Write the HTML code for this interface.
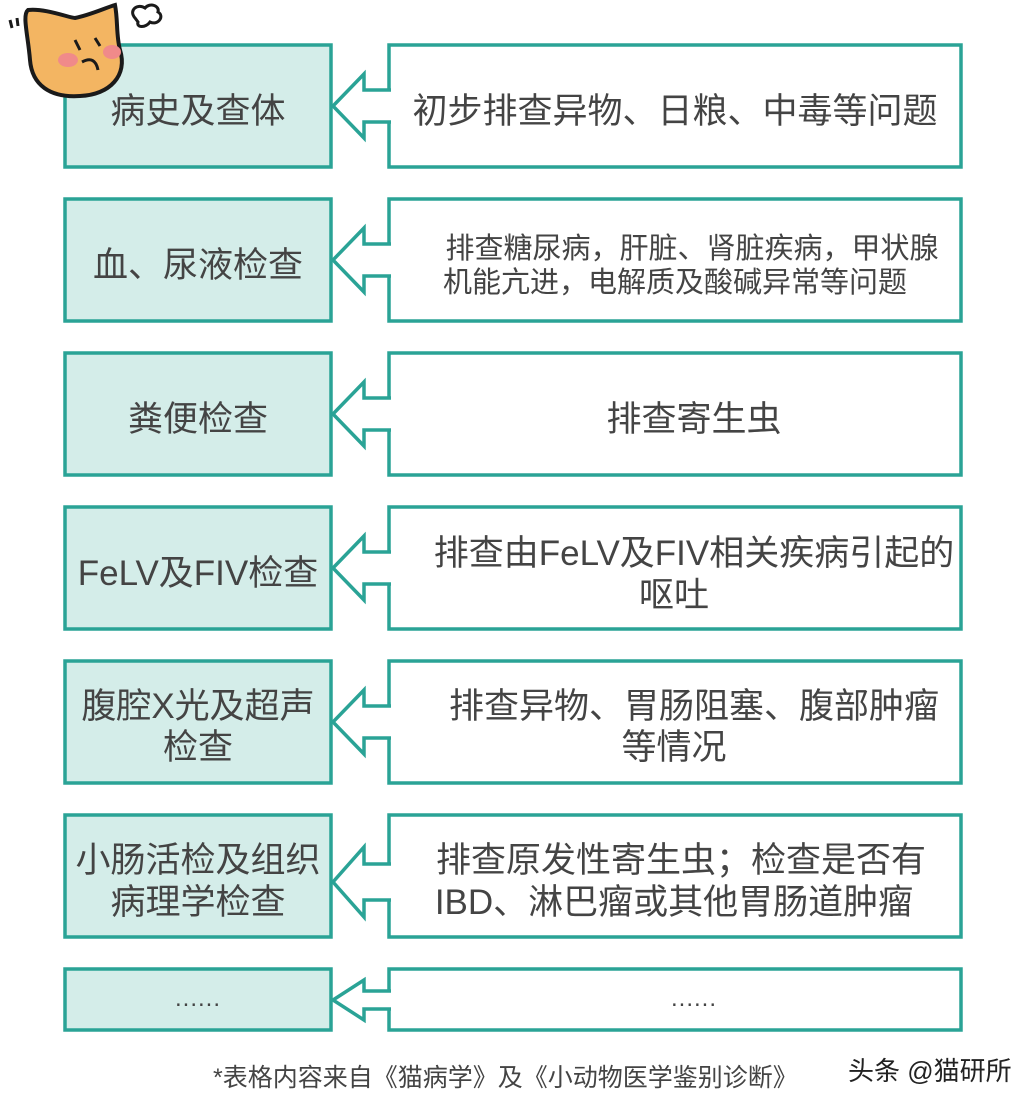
<!DOCTYPE html>
<html><head><meta charset="utf-8"><style>
html,body{margin:0;padding:0;background:#fff;}
svg{display:block}
text{font-family:"Liberation Sans","Noto Sans CJK SC",sans-serif;fill:#444;}
</style></head><body>
<svg width="1034" height="1103" viewBox="0 0 1034 1103" xmlns="http://www.w3.org/2000/svg">
<g stroke="#2aa396" stroke-width="3.5" stroke-linejoin="miter">
<rect x="65" y="45" width="266" height="122" fill="#d4ede9"/>
<rect x="389" y="45" width="572" height="122" fill="#fff"/>
<rect x="65" y="199" width="266" height="122" fill="#d4ede9"/>
<rect x="389" y="199" width="572" height="122" fill="#fff"/>
<rect x="65" y="353" width="266" height="122" fill="#d4ede9"/>
<rect x="389" y="353" width="572" height="122" fill="#fff"/>
<rect x="65" y="507" width="266" height="122" fill="#d4ede9"/>
<rect x="389" y="507" width="572" height="122" fill="#fff"/>
<rect x="65" y="661" width="266" height="122" fill="#d4ede9"/>
<rect x="389" y="661" width="572" height="122" fill="#fff"/>
<rect x="65" y="815" width="266" height="122" fill="#d4ede9"/>
<rect x="389" y="815" width="572" height="122" fill="#fff"/>
<rect x="65" y="969" width="266" height="61" fill="#d4ede9"/>
<rect x="389" y="969" width="572" height="61" fill="#fff"/>
</g>
<g fill="#fff" stroke="#2aa396" stroke-width="3.5">
<path d="M391 90 H364 V74 L333 106 L364 138 V122 H391" />
<path d="M391 244 H364 V228 L333 260 L364 292 V276 H391" />
<path d="M391 398 H364 V382 L333 414 L364 446 V430 H391" />
<path d="M391 552 H364 V536 L333 568 L364 600 V584 H391" />
<path d="M391 706 H364 V690 L333 722 L364 754 V738 H391" />
<path d="M391 864 H364 V847 L333 882 L364 917 V900 H391" />
<path d="M391 991 H364 V980 L333 1000 L364 1020 V1009 H391" />
</g>
<g font-size="35" text-anchor="middle">
<text x="198" y="123">病史及查体</text>
<text x="198" y="277">血、尿液检查</text>
<text x="198" y="431">粪便检查</text>
<text x="198" y="585">FeLV及FIV检查</text>
<text x="198" y="718">腹腔X光及超声</text>
<text x="198" y="759">检查</text>
<text x="198" y="872">小肠活检及组织</text>
<text x="198" y="914">病理学检查</text>
<text x="198" y="1006" font-size="24" letter-spacing="1">......</text>
</g>
<g font-size="35" text-anchor="middle">
<text x="675" y="123">初步排查异物、日粮、中毒等问题</text>
<text x="692" y="258" font-size="29">排查糖尿病，肝脏、肾脏疾病，甲状腺</text>
<text x="675" y="292" font-size="29">机能亢进，电解质及酸碱异常等问题</text>
<text x="694" y="431">排查寄生虫</text>
<text x="694" y="565">排查由FeLV及FIV相关疾病引起的</text>
<text x="674" y="607">呕吐</text>
<text x="694" y="718">排查异物、胃肠阻塞、腹部肿瘤</text>
<text x="674" y="759">等情况</text>
<text x="681" y="872">排查原发性寄生虫；检查是否有</text>
<text x="674" y="914">IBD、淋巴瘤或其他胃肠道肿瘤</text>
<text x="694" y="1006" font-size="24" letter-spacing="1">......</text>
</g>
<text x="213" y="1086" font-size="25">*表格内容来自《猫病学》及《小动物医学鉴别诊断》</text>
<text x="848" y="1080" font-size="26" style="fill:#222">头条 @猫研所</text>
<g stroke="#1a1a1a" stroke-width="4">
<path d="M30 60 C28 35 22 15 28 10 C45 8 70 18 75 18 C90 15 105 8 115 5 C118 20 116 35 120 50 C128 75 110 95 80 96 C50 98 32 85 30 60 Z" fill="#f3b562"/>
</g>
<ellipse cx="68" cy="60" rx="10" ry="7" fill="#f08a8a"/>
<ellipse cx="112" cy="52" rx="9" ry="7" fill="#f08a8a"/>
<path d="M75 40 L80 50 M95 38 L100 46 M82 62 Q95 55 98 70" stroke="#1a1a1a" stroke-width="3" fill="none"/>
<path d="M10 20 L12 28 M17 18 L18 26" stroke="#1a1a1a" stroke-width="3"/>
<path d="M135 18 C128 10 138 3 145 8 C150 2 160 6 158 12 C165 16 158 26 150 22 C146 28 136 28 138 22 Z" fill="none" stroke="#1a1a1a" stroke-width="3"/>
</svg>
</body></html>
